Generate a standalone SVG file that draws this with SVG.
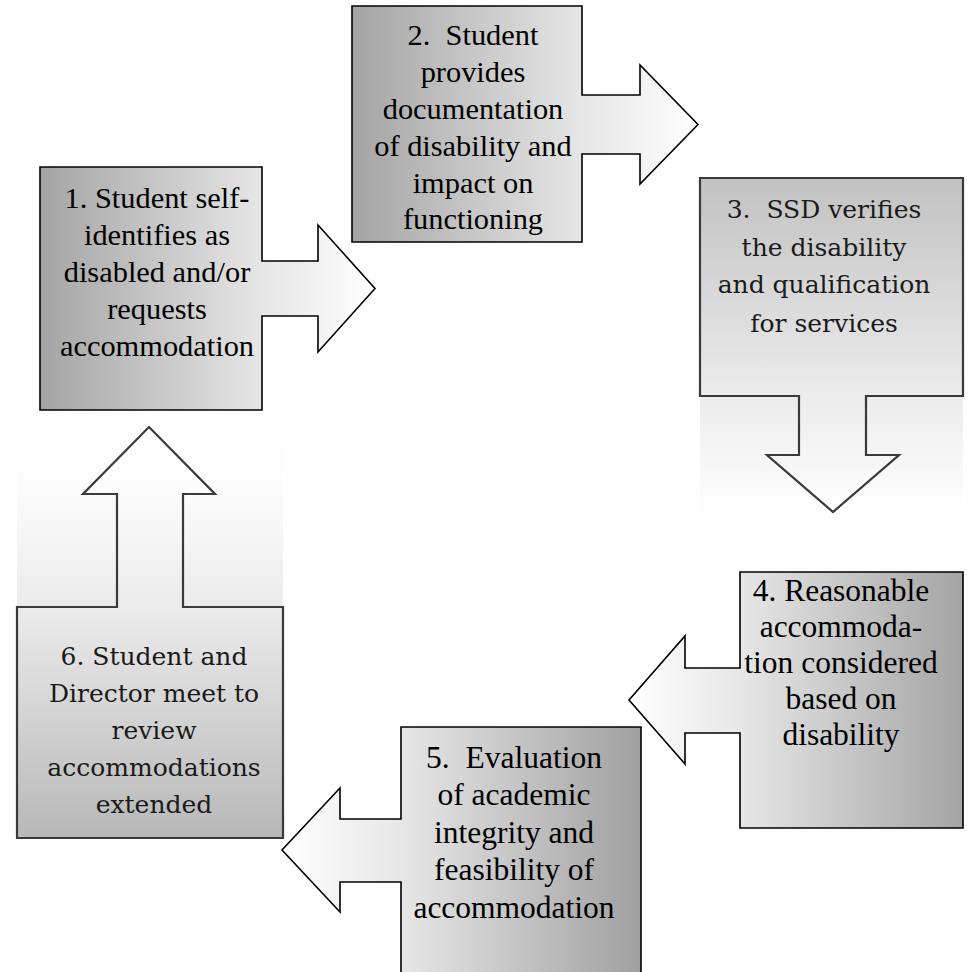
<svg xmlns="http://www.w3.org/2000/svg" width="968" height="972" viewBox="0 0 968 972">
<style>
.ol{stroke:#000;stroke-width:1.6;stroke-linejoin:miter}
.ol2{stroke:#3a3a3a;stroke-width:2.2;stroke-linejoin:miter}
</style>
<defs>
<linearGradient id="g1" gradientUnits="userSpaceOnUse" x1="40" y1="0" x2="375" y2="0">
<stop offset="0" stop-color="#a4a4a4"/><stop offset="0.66" stop-color="#e6e6e6"/><stop offset="1" stop-color="#ffffff"/>
</linearGradient>
<linearGradient id="g2" gradientUnits="userSpaceOnUse" x1="352" y1="0" x2="698" y2="0">
<stop offset="0" stop-color="#a4a4a4"/><stop offset="0.66" stop-color="#e6e6e6"/><stop offset="1" stop-color="#ffffff"/>
</linearGradient>
<linearGradient id="g3" gradientUnits="userSpaceOnUse" x1="0" y1="178" x2="0" y2="515">
<stop offset="0" stop-color="#c2c2c2"/><stop offset="0.65" stop-color="#ececec"/><stop offset="1" stop-color="#ffffff"/>
</linearGradient>
<linearGradient id="g4" gradientUnits="userSpaceOnUse" x1="963" y1="0" x2="629" y2="0">
<stop offset="0" stop-color="#a4a4a4"/><stop offset="0.66" stop-color="#e6e6e6"/><stop offset="1" stop-color="#ffffff"/>
</linearGradient>
<linearGradient id="g5" gradientUnits="userSpaceOnUse" x1="641" y1="0" x2="282" y2="0">
<stop offset="0" stop-color="#a0a0a0"/><stop offset="0.66" stop-color="#e6e6e6"/><stop offset="1" stop-color="#ffffff"/>
</linearGradient>
<linearGradient id="g6" gradientUnits="userSpaceOnUse" x1="0" y1="838" x2="0" y2="427">
<stop offset="0" stop-color="#b8b8b8"/><stop offset="0.56" stop-color="#ebebeb"/><stop offset="0.85" stop-color="#fcfcfc"/><stop offset="1" stop-color="#ffffff"/>
</linearGradient>
</defs>
<rect width="968" height="972" fill="#fff"/>

<g id="node1">
<path class="ol" fill="url(#g1)" d="M40,167 H262 V261 H318 V225 L375,288.5 L318,352 V316 H262 V410 H40 Z"/>
<g font-family="'Liberation Serif', 'Times New Roman', serif" font-size="30.4" fill="#000" text-anchor="middle">
<text x="157" y="208">1. Student self-</text>
<text x="157" y="245">identifies as</text>
<text x="157" y="282">disabled and/or</text>
<text x="157" y="319">requests</text>
<text x="157" y="356">accommodation</text>
</g>
</g>

<g id="node2">
<path class="ol" fill="url(#g2)" d="M352,6 H582 V95 H640 V65 L698,124.5 L640,184 V154 H582 V242 H352 Z"/>
<g font-family="'Liberation Serif', 'Times New Roman', serif" font-size="30.4" fill="#000" text-anchor="middle">
<text x="473" y="45" xml:space="preserve">2.  Student</text>
<text x="473" y="82">provides</text>
<text x="473" y="119">documentation</text>
<text x="473" y="156">of disability and</text>
<text x="473" y="193">impact on</text>
<text x="473" y="229">functioning</text>
</g>
</g>

<g id="node3">
<rect x="700" y="178" width="263" height="337" fill="url(#g3)"/>
<path class="ol2" fill="none" d="M700,178 H963 V396 H866 V455 H899 L833,512 L767,455 H799 V396 H700 Z"/>
<g font-family="'DejaVu Serif', serif" font-size="25" fill="#1a1a1a" text-anchor="middle">
<text x="824" y="218" xml:space="preserve">3.  SSD verifies</text>
<text x="824" y="256">the disability</text>
<text x="824" y="293">and qualification</text>
<text x="824" y="332">for services</text>
</g>
</g>

<g id="node4">
<path class="ol" fill="url(#g4)" d="M963,572 V828 H740 V733 H685 V764 L629,700 L685,636 V668 H740 V572 Z"/>
<g font-family="'Liberation Serif', 'Times New Roman', serif" font-size="31.5" fill="#000" text-anchor="middle">
<text x="841" y="601">4. Reasonable</text>
<text x="841" y="637">accommoda-</text>
<text x="841" y="673">tion considered</text>
<text x="841" y="709">based on</text>
<text x="841" y="745">disability</text>
</g>
</g>

<g id="node5">
<path class="ol" fill="url(#g5)" d="M641,727 V985 H401 V882 H340 V912 L282,850 L340,788 V819 H401 V727 Z"/>
<g font-family="'Liberation Serif', 'Times New Roman', serif" font-size="31.5" fill="#000" text-anchor="middle">
<text x="514" y="768" xml:space="preserve">5.  Evaluation</text>
<text x="514" y="805">of academic</text>
<text x="514" y="843">integrity and</text>
<text x="514" y="880">feasibility of</text>
<text x="514" y="918">accommodation</text>
</g>
</g>

<g id="node6">
<rect x="17" y="427" width="266" height="411" fill="url(#g6)"/>
<path class="ol2" fill="none" d="M17,838 V607 H117 V494 H83 L149,427 L215,494 H183 V607 H283 V838 Z"/>
<g font-family="'DejaVu Serif', serif" font-size="25" fill="#1a1a1a" text-anchor="middle">
<text x="154" y="665">6. Student and</text>
<text x="154" y="702">Director meet to</text>
<text x="154" y="739">review</text>
<text x="154" y="776">accommodations</text>
<text x="154" y="813">extended</text>
</g>
</g>

<g id="connectors"></g>
</svg>
